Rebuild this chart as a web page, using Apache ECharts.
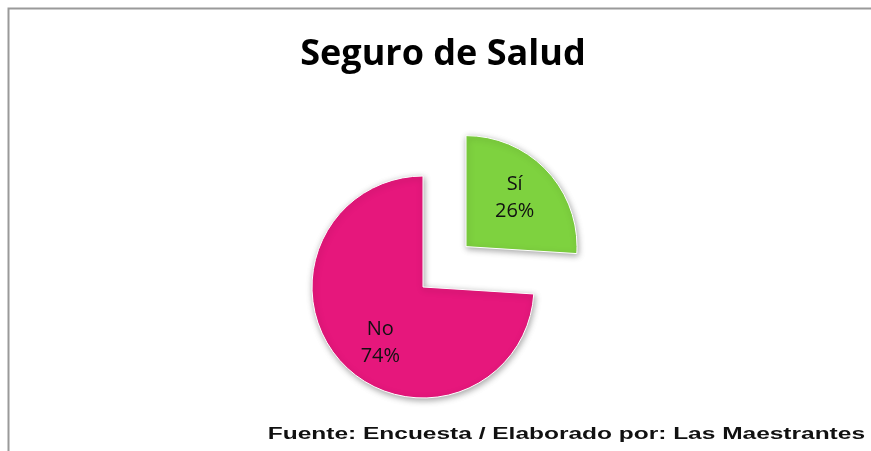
<!DOCTYPE html>
<html>
<head>
<meta charset="utf-8">
<script src="https://cdn.jsdelivr.net/npm/echarts@6/dist/echarts.min.js"></script>
<style>
  html, body { margin: 0; padding: 0; background: #fff; }
  #chart { width: 871px; height: 451px; }
</style>
</head>
<body>
<div id="chart"></div>
<script>
const categories = ['Sí', 'No'];
const percents = [26, 74];
const sliceColors = ['#7ED23F', '#E6177C'];

const chartTitle = 'Seguro de Salud';
const sourceNote = 'Fuente: Encuesta / Elaborado por: Las Maestrantes';

const chart = echarts.init(document.getElementById('chart'));

// label nudges so the text sits where the reference puts it
const labelShift = [[6, -9], [0, 16]];

const pieData = categories.map(function (name, i) {
    return {
        name: name,
        value: percents[i],
        selected: i === 0,
        itemStyle: { color: sliceColors[i] },
        label: { offset: labelShift[i] },
        select: { label: { offset: labelShift[i] } }
    };
});

const option = {
    backgroundColor: '#fff',
    animation: false,
    title: {
        text: chartTitle,
        left: 438,
        top: 50,
        textAlign: 'center',
        textVerticalAlign: 'middle',
        textStyle: {
            fontFamily: 'Open Sans',
            fontWeight: 'bold',
            fontSize: 36,
            color: '#000'
        }
    },
    graphic: [
        {
            type: 'rect',
            shape: { x: 8.5, y: 8.5, width: 900, height: 500 },
            style: { fill: 'none', stroke: '#9a9a9a', lineWidth: 2 },
            silent: true
        },
        {
            type: 'text',
            x: 865,
            y: 443,
            scaleX: 1.53,
            style: {
                text: sourceNote,
                font: 'bold 16px "Liberation Sans"',
                fill: '#111',
                align: 'right',
                verticalAlign: 'bottom'
            }
        }
    ],
    series: [{
        type: 'pie',
        center: [423, 287],
        radius: 111,
        startAngle: 90,
        clockwise: true,
        selectedMode: 'single',
        selectedOffset: 59,
        label: {
            position: 'inside',
            formatter: '{b}\n{c}%',
            fontFamily: 'Open Sans',
            fontSize: 20,
            lineHeight: 27,
            color: '#111'
        },
        labelLine: { show: false },
        itemStyle: {
            borderColor: '#fff',
            borderWidth: 1,
            shadowBlur: 6,
            shadowColor: 'rgba(0,0,0,0.35)',
            shadowOffsetX: 1,
            shadowOffsetY: 2
        },
        emphasis: { disabled: true },
        data: pieData
    }]
};

chart.setOption(option);
</script>
</body>
</html>
